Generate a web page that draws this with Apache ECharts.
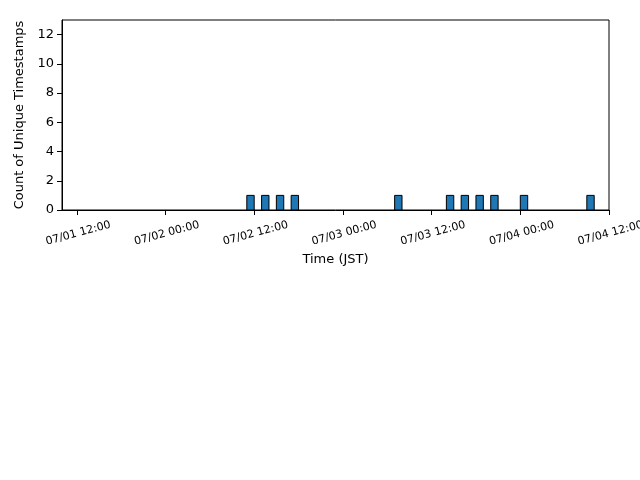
<!DOCTYPE html>
<html>
<head>
<meta charset="utf-8">
<script src="https://cdn.jsdelivr.net/npm/echarts@6/dist/echarts.min.js"></script>
<style>
  html, body { margin: 0; padding: 0; background: #fff; }
  #chart { width: 640px; height: 480px; }
</style>
</head>
<body>
<div id="chart"></div>
<script>
// one-hour bins (JST), start of each bin
var binStarts = ['07/02 11:00', '07/02 13:00', '07/02 15:00', '07/02 17:00',
                 '07/03 07:00', '07/03 14:00', '07/03 16:00', '07/03 18:00',
                 '07/03 20:00', '07/04 00:00', '07/04 09:00'];
var counts = [1, 1, 1, 1, 1, 1, 1, 1, 1, 1, 1];
var xTicks = ['07/01 12:00', '07/02 00:00', '07/02 12:00', '07/03 00:00',
              '07/03 12:00', '07/04 00:00', '07/04 12:00'];
var yTicks = [0, 2, 4, 6, 8, 10, 12];

// hours since 07/01 00:00
function toHours(s) {
    var day = parseInt(s.substr(3, 2), 10);
    var hh = parseInt(s.substr(6, 2), 10);
    var mm = parseInt(s.substr(9, 2), 10);
    return (day - 1) * 24 + hh + mm / 60;
}
function pad(n) { return (n < 10 ? '0' : '') + n; }
function fromHours(h) {
    var day = Math.floor(h / 24) + 1;
    var hh = Math.round(h - (day - 1) * 24);
    return '07/' + pad(day) + ' ' + pad(hh) + ':00';
}

var barData = [];
for (var i = 0; i < binStarts.length; i++) {
    var s = toHours(binStarts[i]);
    barData.push([s, s + 1, counts[i]]);
}
var xTickVals = xTicks.map(toHours);

var myChart = echarts.init(document.getElementById('chart'));
var option = {
    backgroundColor: '#fff',
    animation: false,
    textStyle: { fontFamily: 'DejaVu Sans' },
    grid: {
        left: 62, right: 31, top: 20, bottom: 270,
        outerBoundsMode: 'none',
        containLabel: false,
        show: true, borderColor: '#000', borderWidth: 1, backgroundColor: 'transparent'
    },
    xAxis: {
        type: 'value',
        min: 10,
        max: 84,
        name: 'Time (JST)',
        nameLocation: 'middle',
        nameGap: 43,
        nameTextStyle: { fontSize: 13, color: '#000' },
        axisLine: { show: true, onZero: false, lineStyle: { color: '#000', width: 1 } },
        axisTick: { show: true, length: 5, lineStyle: { color: '#000' }, customValues: xTickVals },
        axisLabel: {
            customValues: xTickVals,
            rotate: 15,
            align: 'center',
            verticalAlign: 'top',
            margin: 18,
            fontSize: 11,
            color: '#000',
            formatter: function (v) { return fromHours(v); }
        },
        splitLine: { show: false }
    },
    yAxis: {
        type: 'value',
        min: 0,
        max: 13,
        name: 'Count of Unique Timestamps',
        nameLocation: 'middle',
        nameGap: 32,
        nameTextStyle: { fontSize: 13, color: '#000' },
        axisLine: { show: true, lineStyle: { color: '#000', width: 1 } },
        axisTick: { show: true, length: 5, lineStyle: { color: '#000' }, customValues: yTicks },
        axisLabel: { customValues: yTicks, margin: 8, fontSize: 13, color: '#000' },
        splitLine: { show: false }
    },
    series: [{
        type: 'custom',
        data: barData,
        encode: { x: [0, 1], y: 2 },
        renderItem: function (params, api) {
            var p0 = api.coord([api.value(0), 0]);
            var p1 = api.coord([api.value(1), api.value(2)]);
            return {
                type: 'rect',
                shape: { x: p0[0], y: p1[1], width: p1[0] - p0[0], height: p0[1] - p1[1] },
                style: { fill: '#1f77b4', stroke: '#000', lineWidth: 1 }
            };
        }
    }]
};
myChart.setOption(option);
</script>
</body>
</html>
